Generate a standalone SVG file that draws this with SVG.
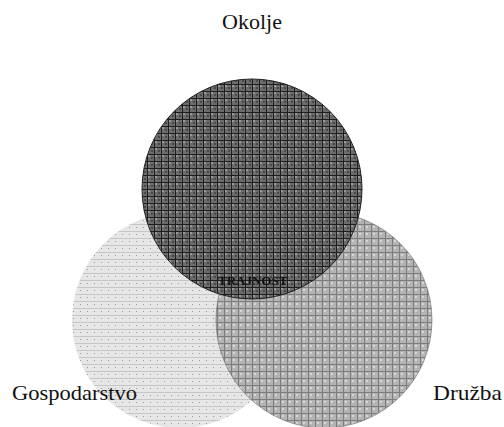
<svg xmlns="http://www.w3.org/2000/svg" width="504" height="427" viewBox="0 0 504 427">
<style>
.lbl{font-family:"Liberation Serif","Times New Roman",serif;font-size:22px;fill:#111}
.core{font-family:"Liberation Serif","Times New Roman",serif;font-size:13px;font-weight:bold;fill:#111}
</style>
<defs>
<pattern id="pTop" width="7" height="7" patternUnits="userSpaceOnUse">
<rect width="7" height="7" fill="#6c6c6c"/>
<rect x="1" y="1" width="2" height="2" fill="#9a9a9a"/>
<rect x="4" y="3" width="2" height="2" fill="#4a4a4a"/>
<path d="M0 0.5H7M0.5 0V7" stroke="#1e1e1e" stroke-width="1"/>
</pattern>
<pattern id="pRight" width="7" height="7" patternUnits="userSpaceOnUse">
<rect width="7" height="7" fill="#b4b4b4"/>
<rect x="2" y="2" width="2" height="2" fill="#d6d6d6"/>
<path d="M0 0.5H7M0.5 0V7" stroke="#7c7c7c" stroke-width="1"/>
</pattern>
<pattern id="pLeft" width="7" height="7" patternUnits="userSpaceOnUse">
<rect width="7" height="7" fill="#e6e6e6"/>
<rect x="3" y="3" width="1" height="1" fill="#999"/>
<path d="M0 0.5H7" stroke="#c6c6c6" stroke-width="1"/>
</pattern>
</defs>
<rect width="504" height="427" fill="#fff"/>
<g id="gospodarstvo">
<circle cx="180" cy="320" r="108" fill="url(#pLeft)"/>
<text class="lbl" x="12" y="400" textLength="125" lengthAdjust="spacingAndGlyphs">Gospodarstvo</text>
</g>
<g id="druzba">
<circle cx="324" cy="320" r="108" fill="url(#pRight)" stroke="#666" stroke-width="0.6"/>
<text class="lbl" x="433" y="400" textLength="69" lengthAdjust="spacingAndGlyphs">Družba</text>
</g>
<g id="okolje">
<circle cx="252" cy="189" r="110" fill="url(#pTop)" stroke="#222" stroke-width="1"/>
<text class="lbl" x="252" y="29" text-anchor="middle">Okolje</text>
</g>
<g id="trajnost">
<text class="core" x="218" y="285">TRAJNOST</text>
</g>
</svg>
